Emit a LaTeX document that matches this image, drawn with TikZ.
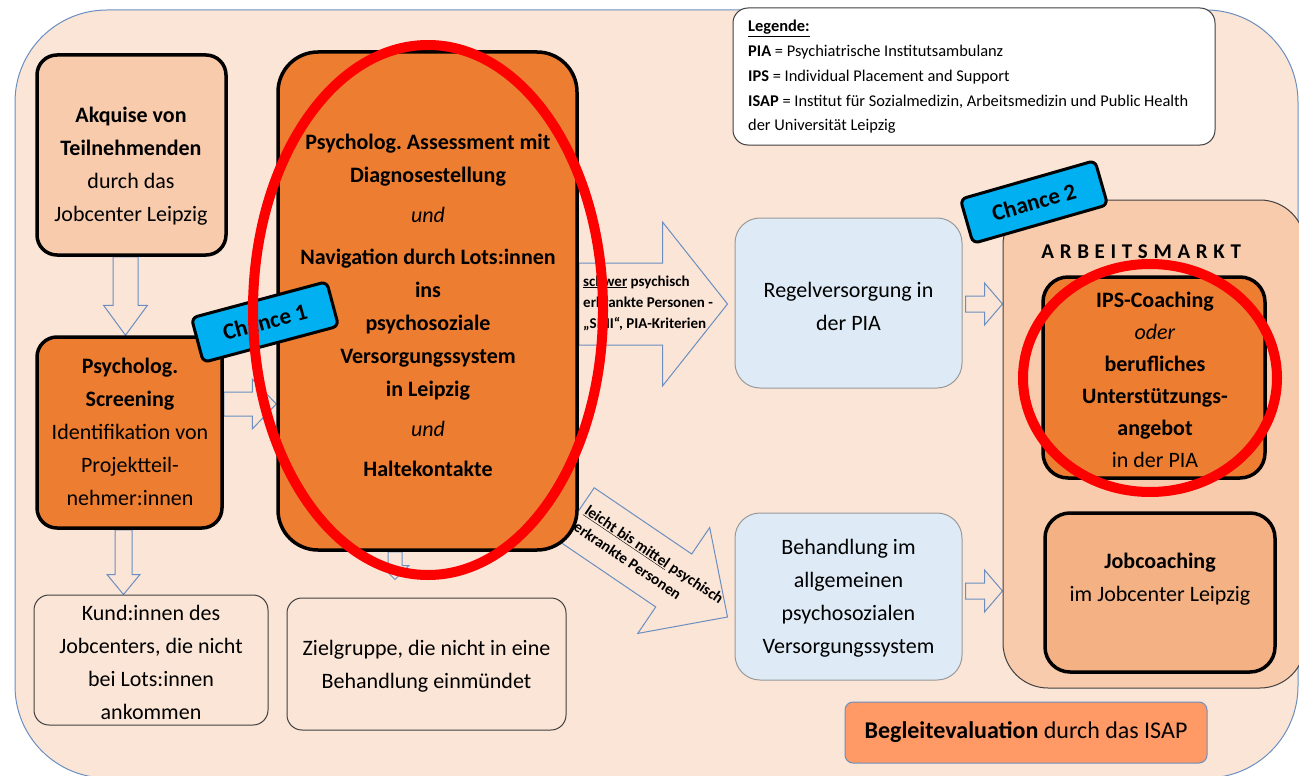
\documentclass[tikz,border=0pt]{standalone}
\usepackage{fontspec}
\setmainfont{Carlito}
\newfontfamily\spacedfont[LetterSpace=27]{Carlito}
\usetikzlibrary{calc}
\pgfdeclarelayer{back}
\pgfdeclarelayer{arrows}
\pgfsetlayers{back,arrows,main}
\definecolor{bgpeach}{HTML}{FBE5D6}
\definecolor{lightor}{HTML}{F8CBAD}
\definecolor{boxorange}{HTML}{ED7D31}
\definecolor{paleblue}{HTML}{DEEBF7}
\definecolor{chanceblue}{HTML}{00B0F0}
\definecolor{jobor}{HTML}{F4B183}
\definecolor{evalor}{HTML}{FF9966}
\definecolor{arrowblue}{HTML}{6A8FC0}
\definecolor{thinborder}{HTML}{404040}
\frenchspacing
% name, start, tip, shaft half width, head half width, head length
\newcommand{\blockarrow}[6]{%
  \coordinate (#1h) at ($(#3)!#6pt!(#2)$);
  \draw[blockarr] ($(#2)!#4pt!90:(#3)$) -- ($(#1h)!#4pt!90:(#3)$) -- ($(#1h)!#5pt!90:(#3)$) -- (#3)
     -- ($(#1h)!#5pt!-90:(#3)$) -- ($(#1h)!#4pt!-90:(#3)$) -- ($(#2)!#4pt!-90:(#3)$) -- cycle;}
\begin{document}
\begin{tikzpicture}[x=1pt,y=-1pt,
  txt/.style={font=\fontsize{22}{33}\selectfont, align=center, inner sep=0pt},
  thickbox/.style={draw=black, line width=3.5pt, rounded corners=20pt},
  thinbox/.style={draw=thinborder, line width=1pt, rounded corners=15pt, fill=bgpeach},
  bluebox/.style={draw=gray!80, line width=1pt, rounded corners=25pt, fill=paleblue},
  blockarr/.style={draw=arrowblue, line width=1pt, fill=bgpeach, line join=miter},
  chancetag/.style={draw=black, line width=3pt, fill=chanceblue, rounded corners=6pt, minimum width=140pt, minimum height=46pt, inner sep=0pt, font=\fontsize{23}{26}\selectfont\bfseries},
  annot/.style={draw=red, line width=10pt}
]
\useasboundingbox (0,0) rectangle (1299,776);
\begin{pgfonlayer}{back}
\draw[draw=arrowblue, fill=bgpeach, line width=1pt, rounded corners=92pt] (15,10) rectangle (1298,778);
\end{pgfonlayer}

% legend
\node[draw=thinborder, line width=1pt, fill=white, rounded corners=15pt, minimum width=482pt, minimum height=137pt] (leg) at (974,76.5) {};
\node[anchor=west, align=left, inner sep=0pt, font=\fontsize{16.4}{24.75}\selectfont] (legt) at (748,77)
 {\textbf{\underline{Legende:}}\\\textbf{PIA} = Psychiatrische Institutsambulanz\\\textbf{IPS} = Individual Placement and Support\\\textbf{ISAP} = Institut für Sozialmedizin, Arbeitsmedizin und Public Health\\der Universität Leipzig};

% left column
\node[thickbox, fill=lightor, minimum width=189pt, minimum height=200pt] (akq) at (131.5,155) {};
\node[txt] (akqt) at (131,166) {\textbf{Akquise von}\\\textbf{Teilnehmenden}\\durch das\\Jobcenter Leipzig};
\node[thickbox, fill=boxorange, minimum width=185pt, minimum height=191pt] (scr) at (129.5,432.5) {};
\node[txt] (scrt) at (130,431.5) {\textbf{Psycholog.}\\\textbf{Screening}\\Identifikation von\\Projektteil-\\nehmer:innen};
\node[thinbox, minimum width=234pt, minimum height=130pt] (kund) at (151,660) {};
\node[txt] (kundt) at (151,662) {Kund:innen des\\Jobcenters, die nicht\\bei Lots:innen\\ankommen};

% big box
\node[thickbox, rounded corners=40pt, fill=boxorange, minimum width=299pt, minimum height=498pt] (big) at (427.5,301) {};
\node[txt] (bigt) at (428,305) {\textbf{Psycholog. Assessment mit}\\\textbf{Diagnosestellung}\\[7pt]\textit{und}\\[9pt]\textbf{Navigation durch Lots:innen}\\\textbf{ins}\\\textbf{psychosoziale}\\\textbf{Versorgungssystem}\\\textbf{in Leipzig}\\[7pt]\textit{und}\\[7pt]\textbf{Haltekontakte}};
\node[thinbox, minimum width=279pt, minimum height=132pt] (ziel) at (426.5,664) {};
\node[txt] (zielt) at (426.5,666.5) {Zielgruppe, die nicht in eine\\Behandlung einmündet};

% blue boxes
\node[bluebox, minimum width=227pt, minimum height=170pt] (regel) at (848.5,303) {};
\node[txt] (regelt) at (848.5,306.5) {Regelversorgung in\\der PIA};
\node[bluebox, minimum width=227pt, minimum height=167pt] (beh) at (848.5,596.5) {};
\node[txt] (beht) at (848.5,598.5) {Behandlung im\\allgemeinen\\psychosozialen\\Versorgungssystem};

% Arbeitsmarkt
\node[draw=thinborder, line width=1pt, fill=lightor, rounded corners=45pt, minimum width=302pt, minimum height=488pt] (arbm) at (1154,444) {};
\node[inner sep=0pt, font=\fontsize{21}{24}\selectfont\bfseries\spacedfont] (arbt) at (1144,252) {\textbf{ARBEITSMARKT}};
\node[thickbox, rounded corners=25pt, fill=boxorange, minimum width=222pt, minimum height=201pt] (ips) at (1154,377.5) {};
\node[txt, font=\fontsize{22}{32}\selectfont] (ipst) at (1155,380) {\textbf{IPS-Coaching}\\\textit{oder}\\\textbf{berufliches}\\\textbf{Unterstützungs-}\\\textbf{angebot}\\in der PIA};
\node[thickbox, rounded corners=25pt, fill=jobor, minimum width=230pt, minimum height=159pt] (jobc) at (1160,592.5) {};
\node[txt] (jobct) at (1160,579.5) {\textbf{Jobcoaching}\\im Jobcenter Leipzig};

% evaluation
\node[draw=arrowblue, line width=1pt, fill=evalor, rounded corners=8pt, minimum width=362pt, minimum height=61pt, font=\fontsize{24}{28}\selectfont] (eval) at (1026,732.5) {\textbf{Begleitevaluation} durch das ISAP};

% block arrows
\begin{pgfonlayer}{arrows}
\coordinate (h404) at (0,404);
\coordinate (h395) at (395,0);
\coordinate (h304) at (0,304);
\coordinate (h591) at (0,591);
\coordinate (a1s) at ([xshift=-6pt]akq.south);
\coordinate (a1t) at (scr.north -| a1s);
\blockarrow{a1}{a1s}{a1t}{12.5}{22}{30}
\coordinate (a2s) at (scr.east |- h404);
\coordinate (a2t) at (big.west |- h404);
\blockarrow{a2}{a2s}{a2t}{12}{25}{24}
\coordinate (a3s) at ([xshift=-6pt]scr.south);
\coordinate (a3t) at (kund.north -| a3s);
\blockarrow{a3}{a3s}{a3t}{8.5}{16.5}{20}
\coordinate (a4s) at (big.south -| h395);
\coordinate (zt) at ([yshift=18pt]ziel.north);
\coordinate (a4t) at (zt -| h395);
\blockarrow{a4}{a4s}{a4t}{7}{14}{14}
\coordinate (a5s) at (big.east |- h304);
\coordinate (rw) at ([xshift=-7pt]regel.west);
\coordinate (a5t) at (rw |- h304);
\blockarrow{a5}{a5s}{a5t}{41}{82}{65}
\coordinate (a6s) at ([shift={(-2.5pt,37.5pt)}]big.south east);
\coordinate (a6t) at ([shift={(-7pt,-20.5pt)}]beh.west);
\blockarrow{a6}{a6s}{a6t}{32}{64}{65}
\coordinate (re) at ([xshift=3pt]regel.east);
\coordinate (a7s) at (re |- h304);
\coordinate (a7t) at (arbm.west |- h304);
\blockarrow{a7}{a7s}{a7t}{8}{21}{18}
\coordinate (be) at ([xshift=3pt]beh.east);
\coordinate (a8s) at (be |- h591);
\coordinate (a8t) at (arbm.west |- h591);
\blockarrow{a8}{a8s}{a8t}{8}{21}{18}
\end{pgfonlayer}

% arrow labels
\node[anchor=west, align=left, inner sep=0pt, font=\fontsize{15}{21}\selectfont\bfseries] (a5txt) at (583,303)
 {\underline{schwer} psychisch\\erkrankte Personen -\\„SMI“, PIA-Kriterien};
\node[anchor=west, align=left, inner sep=0pt, rotate=-34, font=\fontsize{15.5}{20}\selectfont\bfseries] (a6txt) at (581,517)
 {\underline{leicht bis mittel} psychisch\\erkrankte Personen};

% chance tags
\node[chancetag, rotate=15] (ch1) at (265,322) {Chance 1};
\node[chancetag, rotate=16] (ch2) at (1034,202) {Chance 2};

% red annotation ellipses
\draw[annot] (428,310) ellipse [x radius=175, y radius=265];
\draw[annot] (1150,378) ellipse [x radius=127, y radius=114];
\end{tikzpicture}
\end{document}
